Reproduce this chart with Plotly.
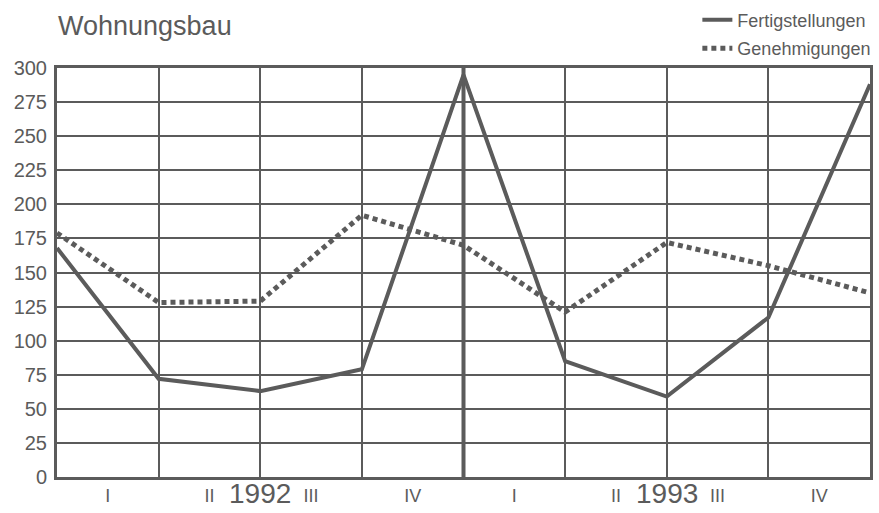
import plotly.graph_objects as go

# quarter boundaries 0..8 (I/1992 ... IV/1993)
pos = [0, 1, 2, 3, 4, 5, 6, 7, 8]
fertigstellungen = [168, 72, 63, 79, 295, 85, 59, 117, 288]
genehmigungen = [179, 128, 129, 192, 170, 121, 172, 155, 135]

quarter_pos = [0.5, 1.5, 2.5, 3.5, 4.5, 5.5, 6.5, 7.5]
quarter_text = ["I", "II", "III", "IV", "I", "II", "III", "IV"]
year_pos = [2, 6]
year_text = ["1992", "1993"]

ink = "#5b5b5b"
font = "Liberation Sans, Arial, sans-serif"

fig = go.Figure()
fig.add_trace(go.Scatter(
    x=pos, y=fertigstellungen, mode="lines", name="Fertigstellungen",
    line=dict(color=ink, width=4), legendgroup="a",
))
fig.add_trace(go.Scatter(
    x=pos, y=genehmigungen, mode="lines", name="Genehmigungen",
    line=dict(color=ink, width=5, dash="5px,4px"), legendgroup="b",
))

# thick year boundary
fig.add_vline(x=4, line=dict(color=ink, width=4), layer="below")

for xp, t in zip(year_pos, year_text):
    fig.add_annotation(x=xp, y=0, xref="x", yref="paper", yanchor="top", yshift=1,
                       text=t, showarrow=False, font=dict(size=28, color=ink, family=font))

fig.update_layout(
    width=879, height=513,
    margin=dict(l=57, r=9, t=68, b=36, autoexpand=False),
    paper_bgcolor="white", plot_bgcolor="white",
    font=dict(family=font, color=ink),
    title=dict(text="Wohnungsbau", x=0.066, xref="container", xanchor="left",
               y=0.951, yanchor="middle",
               font=dict(size=27, color=ink, family=font)),
    legend=dict(xref="container", yref="container", x=0.997, xanchor="right", y=0.997, yanchor="top",
                font=dict(size=18, color=ink), tracegroupgap=2, bgcolor="rgba(0,0,0,0)"),
    showlegend=True,
)
fig.update_xaxes(
    range=[0, 8], tickvals=quarter_pos, ticktext=quarter_text, showgrid=False,
    ticks="", tickfont=dict(size=18, color=ink), ticklabelstandoff=0,
    minor=dict(tick0=0, dtick=1, showgrid=True, gridcolor=ink, gridwidth=2, ticks=""),
    showline=True, linecolor=ink, linewidth=3, mirror=True, zeroline=False,
)
fig.update_yaxes(
    range=[0, 300], dtick=25, tick0=0, showgrid=True, gridcolor=ink, gridwidth=2,
    ticks="", tickfont=dict(size=20, color=ink), ticklabelstandoff=3,
    showline=True, linecolor=ink, linewidth=3, mirror=True, zeroline=False,
)

fig.write_html("out.html", config={"displayModeBar": False},
               post_script="document.body.style.margin='0px';")
